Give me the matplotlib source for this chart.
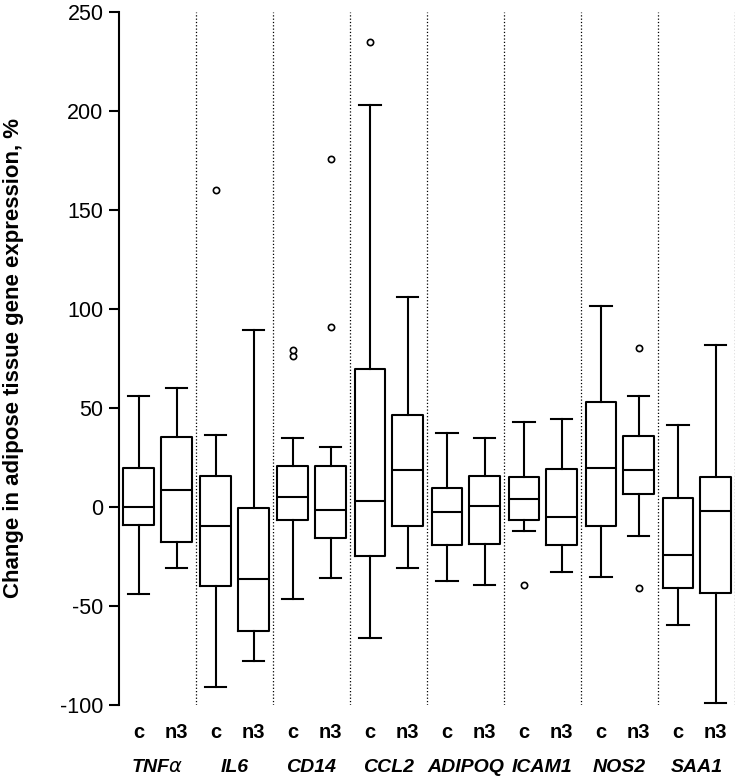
import numpy as np
import matplotlib
matplotlib.use("Agg")
import matplotlib.pyplot as plt

plt.rcParams["font.family"] = ["Liberation Sans", "DejaVu Sans"]
plt.rcParams["axes.unicode_minus"] = False

genes = [r"TNF$\alpha$", "IL6", "CD14", "CCL2", "ADIPOQ", "ICAM1", "NOS2", "SAA1"]
groups = ["c", "n3"]

# per box: whisker low, q1, median, q3, whisker high (order: c, n3 for each gene)
whislo = [-44, -31, -91, -77.6, -46.3, -35.9, -66, -30.6, -37.5, -39.2, -12.1, -33, -35.4, -14.5, -59.4, -99]
q1 = [-9, -17.8, -40, -62.8, -6.6, -15.7, -24.9, -9.8, -19.2, -18.7, -6.4, -19, -9.4, 6.6, -40.7, -43.3]
med = [0, 8.7, -9.6, -36.5, 4.9, -1.3, 3, 18.7, -2.5, 0.7, 4.2, -5.2, 19.9, 18.7, -24.4, -2.2]
q3 = [19.5, 35.5, 15.5, -0.7, 20.7, 20.7, 69.7, 46.6, 9.8, 15.5, 15, 19.2, 53, 35.9, 4.4, 15.3]
whishi = [56, 60, 36.5, 89.4, 34.7, 30.1, 202.7, 105.9, 37.5, 35, 42.8, 44.6, 101.4, 55.9, 41.6, 81.8]
fliers = [[], [], [160], [], [76, 79], [175.4, 90.9], [234.7], [], [], [], [-39.2], [], [], [80.1, -40.9], [], []]

stats = []
for i in range(len(med)):
    stats.append(dict(whislo=whislo[i], q1=q1[i], med=med[i], q3=q3[i],
                      whishi=whishi[i], fliers=fliers[i]))

positions = []
for g in range(len(genes)):
    positions += [2 * g + 0.52, 2 * g + 1.5]

fig = plt.figure(figsize=(7.38, 7.80), dpi=100)
ax = fig.add_axes([0.161, 0.096, 0.835, 0.889])

lw = 1.5
ax.bxp(stats, positions=positions, widths=0.8, capwidths=0.55,
       boxprops=dict(color="black", linewidth=lw),
       whiskerprops=dict(color="black", linewidth=lw),
       capprops=dict(color="black", linewidth=lw),
       medianprops=dict(color="black", linewidth=lw),
       flierprops=dict(marker="o", markersize=4.5, markerfacecolor="white",
                       markeredgecolor="black", markeredgewidth=1.2, linestyle="none"),
       manage_ticks=False)

for g in range(1, len(genes) + 1):
    ax.axvline(2 * g, color="black", linestyle=":", linewidth=0.9)

ax.set_xlim(0, 16)
ax.set_ylim(-100, 250)
ax.set_yticks(np.arange(-100, 251, 50))
ax.tick_params(axis="y", labelsize=15.5, length=7.5, width=1.5, pad=3.5, direction="out")
ax.set_xticks([])
for s in ["top", "right", "bottom"]:
    ax.spines[s].set_visible(False)
ax.spines["left"].set_linewidth(1.5)

for i, p in enumerate(positions):
    ax.annotate(groups[i % 2], xy=(p, 0), xycoords=("data", "axes fraction"),
                xytext=(0, -20), textcoords="offset points",
                ha="center", va="center", fontsize=14.5, fontweight="bold")
for g, name in enumerate(genes):
    ax.annotate(name, xy=(2 * g + 1, 0), xycoords=("data", "axes fraction"),
                xytext=(0, -45), textcoords="offset points",
                ha="center", va="center", fontsize=14, fontweight="bold",
                fontstyle="italic")

ax.set_ylabel("Change in adipose tissue gene expression, %", fontsize=16,
              fontweight="bold", labelpad=26)

fig.savefig("out.png", dpi=100)
